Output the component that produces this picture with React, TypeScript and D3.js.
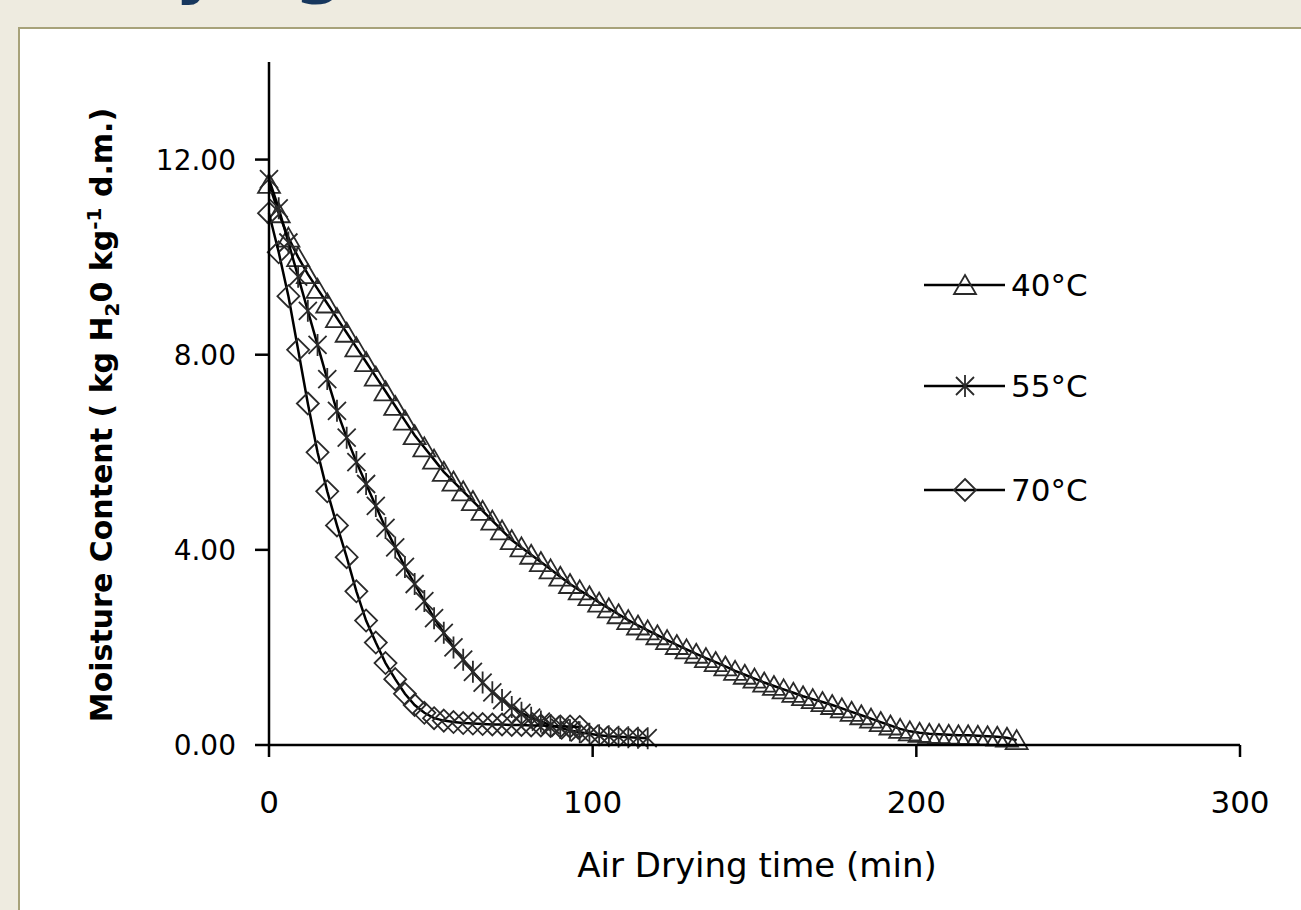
import React from 'react';
import * as d3 from 'd3';

const W = 1301;
const H = 910;

// drying curves, one reading every 3 min
const times40 = [
  0, 3, 6, 9, 12, 15, 18, 21, 24, 27, 30, 33, 36, 39, 42, 45, 48, 51, 54, 57,
  60, 63, 66, 69, 72, 75, 78, 81, 84, 87, 90, 93, 96, 99, 102, 105, 108, 111, 114, 117,
  120, 123, 126, 129, 132, 135, 138, 141, 144, 147, 150, 153, 156, 159, 162, 165, 168, 171, 174, 177,
  180, 183, 186, 189, 192, 195, 198, 201, 204, 207, 210, 213, 216, 219, 222, 225, 228, 231,
];
const moisture40 = [
  11.5, 10.9, 10.4, 10.0, 9.65, 9.35, 9.05, 8.75, 8.45, 8.15,
  7.85, 7.55, 7.25, 6.95, 6.65, 6.35, 6.1, 5.85, 5.6, 5.4,
  5.2, 5.0, 4.8, 4.6, 4.4, 4.2, 4.05, 3.9, 3.75, 3.6,
  3.45, 3.3, 3.17, 3.05, 2.92, 2.8, 2.68, 2.56, 2.45, 2.35,
  2.25, 2.15, 2.05, 1.96, 1.87, 1.78, 1.7, 1.61, 1.52, 1.44,
  1.36, 1.28, 1.21, 1.14, 1.07, 1.0, 0.94, 0.88, 0.82, 0.75,
  0.68, 0.61, 0.54, 0.47, 0.4, 0.33, 0.28, 0.25, 0.23, 0.22,
  0.21, 0.2, 0.2, 0.19, 0.18, 0.17, 0.15, 0.1,
];

const times55 = [
  0, 3, 6, 9, 12, 15, 18, 21, 24, 27, 30, 33, 36, 39, 42, 45, 48, 51, 54, 57,
  60, 63, 66, 69, 72, 75, 78, 81, 84, 87, 90, 93, 96, 99, 102, 105, 108, 111, 114, 117,
];
const moisture55 = [
  11.6, 11.0, 10.3, 9.6, 8.9, 8.2, 7.5, 6.85, 6.3, 5.8,
  5.35, 4.9, 4.45, 4.05, 3.65, 3.3, 2.95, 2.6, 2.3, 2.0,
  1.75, 1.5, 1.28, 1.08, 0.92, 0.78, 0.66, 0.56, 0.48, 0.41,
  0.35, 0.3, 0.26, 0.23, 0.2, 0.18, 0.17, 0.16, 0.15, 0.14,
];

const times70 = [
  0, 3, 6, 9, 12, 15, 18, 21, 24, 27, 30, 33, 36, 39, 42, 45, 48, 51, 54, 57,
  60, 63, 66, 69, 72, 75, 78, 81, 84, 87, 90, 93, 96,
];
const moisture70 = [
  10.9, 10.1, 9.2, 8.1, 7.0, 6.0, 5.2, 4.5, 3.85, 3.15,
  2.55, 2.1, 1.68, 1.35, 1.05, 0.82, 0.66, 0.55, 0.5, 0.47,
  0.45, 0.44, 0.43, 0.42, 0.42, 0.41, 0.41, 0.4, 0.4, 0.39,
  0.38, 0.38, 0.37,
];

const seriesNames = ['40°C', '55°C', '70°C'];
const xTicks = [0, 100, 200, 300];
const yTicks = [0, 4, 8, 12];
const yTickLabels = ['0.00', '4.00', '8.00', '12.00'];

const FONT = '"DejaVu Sans", Verdana, sans-serif';

const x = d3.scaleLinear().domain([0, 300]).range([269, 1240]);
const y = d3.scaleLinear().domain([0, 14]).range([745, 62]);

type Marker = 'triangle' | 'star' | 'diamond';

function markerPath(kind: Marker, cx: number, cy: number) {
  if (kind === 'triangle') {
    return `M${cx},${cy - 10}L${cx + 11},${cy + 9}L${cx - 11},${cy + 9}Z`;
  }
  if (kind === 'star') {
    return `M${cx - 9},${cy - 9}L${cx + 9},${cy + 9}M${cx + 9},${cy - 9}L${cx - 9},${cy + 9}M${cx},${cy - 11}L${cx},${cy + 11}`;
  }
  return `M${cx},${cy - 11}L${cx + 11},${cy}L${cx},${cy + 11}L${cx - 11},${cy}Z`;
}

const series = [
  { name: seriesNames[0], t: times40, m: moisture40, marker: 'triangle' as Marker, legendY: 285 },
  { name: seriesNames[1], t: times55, m: moisture55, marker: 'star' as Marker, legendY: 386 },
  { name: seriesNames[2], t: times70, m: moisture70, marker: 'diamond' as Marker, legendY: 490 },
];

const line = d3
  .line<[number, number]>()
  .x((d) => x(d[0]))
  .y((d) => y(d[1]));

export default function App() {
  return (
    <svg
      width={W}
      height={H}
      style={{ position: 'absolute', left: 0, top: 0, display: 'block' }}
    >
      <rect x={0} y={0} width={W} height={H} fill="#EEEBE0" />
      {/* slide title, mostly cut off above */}
      <text
        x={82}
        y={-10}
        fontFamily={FONT}
        fontWeight="bold"
        fontSize={70}
        fill="#17375E"
      >
        Drying
      </text>
      <rect x={19} y={28} width={1300} height={900} fill="#fff" stroke="#A7A27A" strokeWidth={2} />

      {/* series */}
      {series.map((s) => {
        const pts = s.t.map((t, i) => [t, s.m[i]] as [number, number]);
        return (
          <g key={s.name}>
            <path d={line(pts) || ''} fill="none" stroke="#000" strokeWidth={2.5} />
            {pts.map((p, i) => (
              <path
                key={i}
                d={markerPath(s.marker, x(p[0]), y(p[1]))}
                fill="none"
                stroke="#2a2a2a"
                strokeWidth={1.8}
              />
            ))}
          </g>
        );
      })}

      {/* axes */}
      <line x1={x(0)} x2={x(0)} y1={y(14)} y2={y(0)} stroke="#000" strokeWidth={2.5} />
      <line x1={x(0)} x2={x(300)} y1={y(0)} y2={y(0)} stroke="#000" strokeWidth={2.5} />
      {yTicks.map((v, i) => (
        <g key={v}>
          <line x1={x(0) - 14} x2={x(0)} y1={y(v)} y2={y(v)} stroke="#000" strokeWidth={2.5} />
          <text
            x={236}
            y={y(v)}
            dy="0.36em"
            textAnchor="end"
            fontFamily={FONT}
            fontSize={28}
            fill="#000"
          >
            {yTickLabels[i]}
          </text>
        </g>
      ))}
      {xTicks.map((v) => (
        <g key={v}>
          <line x1={x(v)} x2={x(v)} y1={y(0)} y2={y(0) + 12} stroke="#000" strokeWidth={2.5} />
          <text
            x={x(v)}
            y={813}
            textAnchor="middle"
            fontFamily={FONT}
            fontSize={31}
            fill="#000"
          >
            {v}
          </text>
        </g>
      ))}

      <text
        x={757}
        y={877}
        textAnchor="middle"
        fontFamily={FONT}
        fontSize={34}
        fill="#000"
      >
        Air Drying time (min)
      </text>

      <text
        transform="translate(112,415) rotate(-90)"
        textAnchor="middle"
        fontFamily={FONT}
        fontWeight="bold"
        fontSize={30}
        fill="#000"
      >
        Moisture Content ( kg H
        <tspan fontSize={20} dy={7}>2</tspan>
        <tspan dy={-7}>0 kg</tspan>
        <tspan fontSize={20} dy={-11}>-1</tspan>
        <tspan dy={11}> d.m.)</tspan>
      </text>

      {/* legend */}
      {series.map((s) => (
        <g key={s.name}>
          <line x1={924} x2={1005} y1={s.legendY} y2={s.legendY} stroke="#000" strokeWidth={2.5} />
          <path d={markerPath(s.marker, 965, s.legendY)} fill="none" stroke="#2a2a2a" strokeWidth={1.8} />
          <text
            x={1011}
            y={s.legendY}
            dy="0.36em"
            fontFamily={FONT}
            fontSize={31}
            fill="#000"
          >
            {s.name}
          </text>
        </g>
      ))}
    </svg>
  );
}
